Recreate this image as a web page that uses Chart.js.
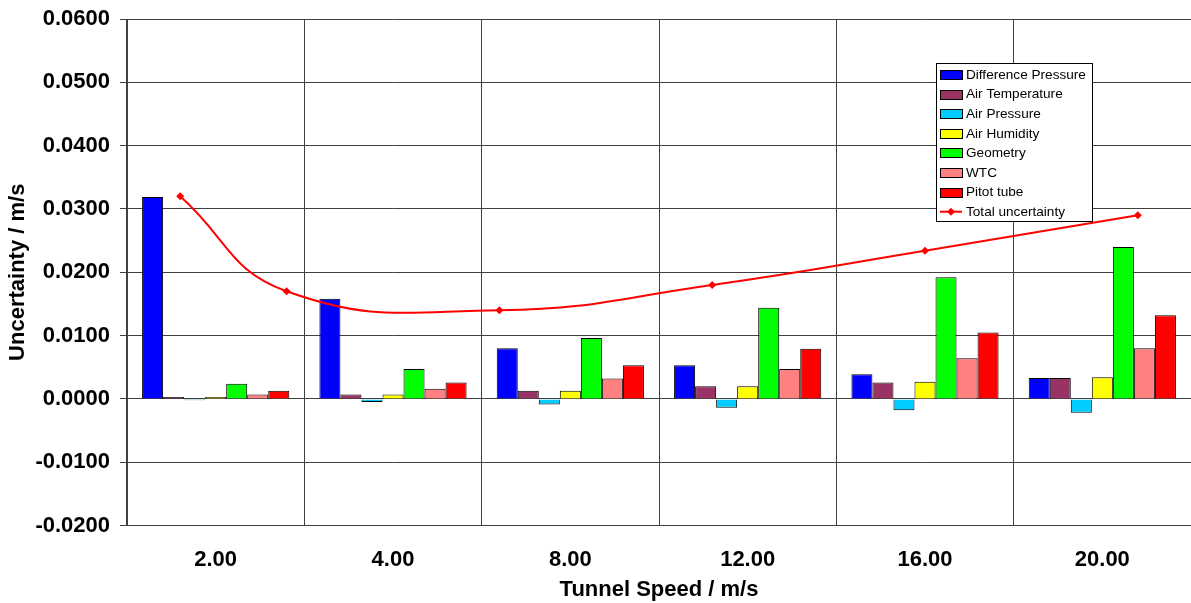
<!DOCTYPE html>
<html>
<head>
<meta charset="utf-8">
<title>Tunnel speed uncertainty</title>
<script src="https://cdn.jsdelivr.net/npm/chart.js@4/dist/chart.umd.min.js"></script>
<style>
  html, body { margin: 0; padding: 0; background: #fff; }
  #wrap { width: 1191px; height: 603px; }
</style>
</head>
<body>
<div id="wrap"><canvas id="chart" width="1191" height="603"></canvas></div>
<script>
// tunnel speeds, m/s
const speeds = [2, 4, 8, 12, 16, 20];
const speedLabels = speeds.map(v => v.toFixed(2));

// uncertainty contributions, m/s
const diffPressure   = [0.0319, 0.0158, 0.0080, 0.0053, 0.0039, 0.0033];
const airTemperature = [0.0003, 0.0007, 0.0013, 0.0020, 0.0026, 0.0033];
const airPressure    = [-0.0002, -0.0005, -0.0009, -0.0014, -0.0018, -0.0022];
const airHumidity    = [0.0003, 0.0007, 0.0013, 0.0020, 0.0027, 0.0034];
const geometry       = [0.0024, 0.0047, 0.0096, 0.0144, 0.0192, 0.0240];
const wtc            = [0.0007, 0.0016, 0.0032, 0.0047, 0.0064, 0.0080];
const pitotTube      = [0.0013, 0.0026, 0.0053, 0.0079, 0.0105, 0.0132];
const totalUncertainty = [0.0320, 0.0170, 0.0140, 0.0180, 0.0234, 0.0290];

// y axis range / steps
const yMin = -0.02;
const yMax = 0.06;
const yStep = 0.01;

// the total line sits on a secondary speed axis running 1..21 m/s
// across the whole category axis (as in the excel original)
const lineAxisMin = 1;
const lineAxisMax = 21;

const FONT = '"Liberation Sans", Arial, Helvetica, sans-serif';
const GRID = '#404040';

// map a speed on the secondary axis onto the category index scale
function speedToCategory(s) {
    return (s - lineAxisMin) / (lineAxisMax - lineAxisMin) * speedLabels.length - 0.5;
}

function bars(label, data, color) {
    return {
        type: 'bar',
        label,
        data,
        categoryPercentage: 0.83,
        barPercentage: 1.0,
        backgroundColor: color,
        borderColor: '#000',
        borderWidth: 1,
        order: 1
    };
}

// legend drawn as a box inside the plot, like the original
const boxLegend = {
    id: 'boxLegend',
    afterDraw(chart) {
        const ctx = chart.ctx;
        const x = 936.5, y = 63.5, w = 156, h = 158;
        ctx.save();
        ctx.fillStyle = '#fff';
        ctx.strokeStyle = '#000';
        ctx.lineWidth = 1;
        ctx.fillRect(x, y, w, h);
        ctx.strokeRect(x, y, w, h);
        ctx.font = '13.6px ' + FONT;
        ctx.textBaseline = 'middle';
        chart.data.datasets.forEach((ds, i) => {
            const cy = 74.5 + i * 19.6;
            if (ds.type === 'line') {
                ctx.strokeStyle = ds.borderColor;
                ctx.lineWidth = 2;
                ctx.beginPath();
                ctx.moveTo(940, cy);
                ctx.lineTo(962, cy);
                ctx.stroke();
                ctx.fillStyle = ds.borderColor;
                ctx.beginPath();
                ctx.moveTo(951, cy - 4);
                ctx.lineTo(955, cy);
                ctx.lineTo(951, cy + 4);
                ctx.lineTo(947, cy);
                ctx.closePath();
                ctx.fill();
            } else {
                ctx.fillStyle = ds.backgroundColor;
                ctx.fillRect(940.5, Math.round(cy - 4.5) + 0.5, 22, 9);
                ctx.strokeStyle = '#000';
                ctx.lineWidth = 1;
                ctx.strokeRect(940.5, Math.round(cy - 4.5) + 0.5, 22, 9);
            }
            ctx.fillStyle = '#000';
            ctx.fillText(ds.label, 966, cy + 0.5);
        });
        ctx.restore();
    }
};

function noScalePadding(scale) {
    scale.paddingLeft = 0;
    scale.paddingRight = 0;
    scale.paddingTop = 0;
    scale.paddingBottom = 0;
}

const ctx = document.getElementById('chart').getContext('2d');

new Chart(ctx, {
    type: 'bar',
    data: {
        labels: speedLabels,
        datasets: [
            bars('Difference Pressure', diffPressure, '#0000ff'),
            bars('Air Temperature', airTemperature, '#993366'),
            bars('Air Pressure', airPressure, '#00ccff'),
            bars('Air Humidity', airHumidity, '#ffff00'),
            bars('Geometry', geometry, '#00ff00'),
            bars('WTC', wtc, '#ff8080'),
            bars('Pitot tube', pitotTube, '#ff0000'),
            {
                type: 'line',
                label: 'Total uncertainty',
                parsing: false,
                data: speeds.map((s, i) => ({ x: speedToCategory(s), y: totalUncertainty[i] })),
                borderColor: '#ff0000',
                backgroundColor: '#ff0000',
                borderWidth: 2,
                tension: 0.45,
                pointStyle: 'rectRot',
                pointRadius: 4,
                pointBorderWidth: 0,
                fill: false,
                order: 0
            }
        ]
    },
    options: {
        responsive: false,
        animation: false,
        devicePixelRatio: 1,
        layout: {
            autoPadding: false,
            padding: { top: 19, right: 0, bottom: 0, left: 0 }
        },
        plugins: {
            legend: { display: false },
            tooltip: { enabled: false }
        },
        scales: {
            x: {
                type: 'category',
                offset: true,
                grid: { offset: true, color: GRID, drawTicks: false },
                border: { color: GRID },
                ticks: {
                    color: '#000',
                    padding: 21,
                    font: { family: FONT, size: 22, weight: 'bold' }
                },
                title: {
                    display: true,
                    text: 'Tunnel Speed / m/s',
                    color: '#000',
                    padding: { top: 0, bottom: 0 },
                    font: { family: FONT, size: 22, weight: 'bold' }
                },
                afterFit(scale) {
                    scale.height = 77.5;
                    noScalePadding(scale);
                }
            },
            y: {
                min: yMin,
                max: yMax,
                grid: { color: GRID, tickLength: 7, tickColor: GRID },
                border: { color: GRID },
                ticks: {
                    stepSize: yStep,
                    color: '#000',
                    padding: 10,
                    font: { family: FONT, size: 22, weight: 'bold' },
                    callback: v => v.toFixed(4)
                },
                title: {
                    display: true,
                    text: 'Uncertainty / m/s',
                    color: '#000',
                    padding: { top: 5, bottom: 0 },
                    font: { family: FONT, size: 22, weight: 'bold' }
                },
                afterFit(scale) {
                    scale.width = 127;
                    noScalePadding(scale);
                }
            }
        }
    },
    plugins: [boxLegend]
});
</script>
</body>
</html>
